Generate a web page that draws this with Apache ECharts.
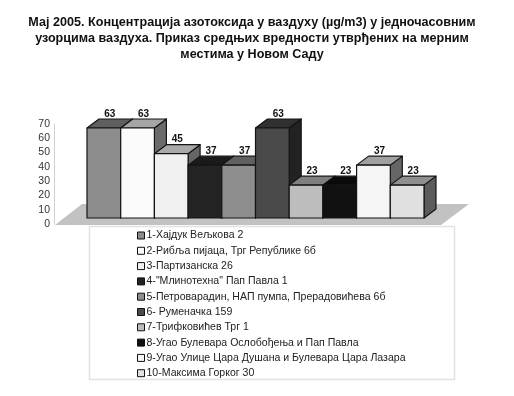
<!DOCTYPE html>
<html>
<head>
<meta charset="utf-8">
<style>html,body{margin:0;padding:0;background:#fff}#c{width:514px;height:396px}</style>
<script src="https://cdn.jsdelivr.net/npm/echarts@6/dist/echarts.min.js"></script>
</head>
<body>
<div id="c"></div>
<script>
const chartTitle = 'Мај 2005. Концентрација азотоксида у ваздуху (µg/m3) у једночасовним\nузорцима ваздуха. Приказ средњих вредности утврђених на мерним\nместима у Новом Саду';
const locations = [
  '1-Хајдук Вељкова 2',
  '2-Рибља пијаца, Трг Републике 6б',
  '3-Партизанска 26',
  '4-"Млинотехна" Пап Павла 1',
  '5-Петроварадин, НАП пумпа, Прерадовићева 6б',
  '6- Руменачка 159',
  '7-Трифковићев Трг 1',
  '8-Угао Булевара Ослобођења и Пап Павла',
  '9-Угао Улице Цара Душана и Булевара Цара Лазара',
  '10-Максима Горког 30'
];
const values = [63, 63, 45, 37, 37, 63, 23, 23, 37, 23];
const frontColors = ['#8c8c8c','#fbfbfb','#f0f0f0','#232323','#8e8e8e','#4a4a4a','#bdbdbd','#111111','#f5f5f5','#e0e0e0'];
const topColors   = ['#5f5f5f','#a5a5a5','#a8a8a8','#1a1a1a','#606060','#303030','#7f7f7f','#0a0a0a','#a0a0a0','#8f8f8f'];
const sideColors  = ['#4a4a4a','#6a6a6a','#666666','#111111','#444444','#222222','#555555','#080808','#666666','#5c5c5c'];

const DEPTH_X = 12, DEPTH_Y = 9, LIFT = 6;
const INK = '#141414';

function poly(points, fill) {
  return { type: 'polygon', shape: { points }, style: { fill, stroke: INK, lineWidth: 1.2, lineJoin: 'round' } };
}
function renderBar(params, api) {
  const cat = api.value(0), val = api.value(1);
  const top = api.coord([cat, val]);
  const base = api.coord([cat, 0]);
  const w = api.size([1, 0])[0];
  const l = top[0] - w / 2, r = top[0] + w / 2;
  const t = top[1] - LIFT, b = base[1] - LIFT;
  return {
    type: 'group',
    children: [
      poly([[r, t], [r + DEPTH_X, t - DEPTH_Y], [r + DEPTH_X, b - DEPTH_Y], [r, b]], sideColors[cat]),
      poly([[l, t], [l + DEPTH_X, t - DEPTH_Y], [r + DEPTH_X, t - DEPTH_Y], [r, t]], topColors[cat]),
      poly([[l, t], [r, t], [r, b], [l, b]], frontColors[cat])
    ]
  };
}
function renderFloor(params) {
  const c = params.coordSys;
  const y0 = c.y + c.height;
  return {
    type: 'polygon',
    shape: { points: [[c.x - 32, y0 + 1], [c.x - 5, y0 - 20], [c.x + c.width + 45, y0 - 20], [c.x + c.width + 17, y0 + 1]] },
    style: { fill: '#c2c2c2' }
  };
}
function renderLabel(params, api) {
  const cat = api.value(0), val = api.value(1);
  const p = api.coord([cat, val]);
  return {
    type: 'text',
    style: {
      x: p[0] + DEPTH_X / 2, y: p[1] - LIFT - DEPTH_Y - 5,
      text: String(val), align: 'center', verticalAlign: 'middle',
      font: 'bold 10px "Liberation Sans"', fill: '#111'
    }
  };
}

const series = [{
  name: 'floor', type: 'custom', z: 1, silent: true, clip: false,
  data: [[0, 0]], encode: { x: 0, y: 1 }, renderItem: renderFloor
}];
locations.forEach((name, i) => {
  series.push({
    name, type: 'custom', z: 2 + i, clip: false,
    itemStyle: { color: frontColors[i] },
    data: [[i, values[i]]], encode: { x: 0, y: 1 }, renderItem: renderBar
  });
});
series.push({
  name: 'labels', type: 'custom', z: 20, clip: false, silent: true,
  data: values.map((v, i) => [i, v]), encode: { x: 0, y: 1 }, renderItem: renderLabel
});

const chart = echarts.init(document.getElementById('c'), null, { renderer: 'canvas' });
chart.setOption({
  animation: false,
  backgroundColor: '#fff',
  title: {
    text: chartTitle, left: 252, top: 15, textAlign: 'center', padding: 0,
    textStyle: { fontFamily: 'Liberation Sans', fontWeight: 'bold', fontSize: 12.6, lineHeight: 16, color: '#111' }
  },
  grid: { left: 87, top: 124, width: 337, height: 100 },
  xAxis: { type: 'category', data: locations, show: false },
  yAxis: {
    type: 'value', min: 0, max: 70, interval: 10, offset: 33,
    axisLine: { show: true, lineStyle: { color: '#d0d0d0' } },
    axisTick: { show: false }, splitLine: { show: false },
    axisLabel: { fontFamily: 'Liberation Sans', fontSize: 10.5, color: '#333', margin: 4 }
  },
  legend: {
    data: locations, orient: 'vertical', left: 137, top: 229.5, padding: 0,
    selectedMode: false, icon: 'rect', itemWidth: 7, itemHeight: 7, itemGap: 3.3,
    itemStyle: { borderColor: '#111', borderWidth: 1 },
    textStyle: { fontFamily: 'Liberation Sans', fontSize: 10.55, color: '#222', padding: [0, 0, 0, -3], lineHeight: 12 }
  },
  graphic: [{
    type: 'rect', z: 0, silent: true,
    shape: { x: 89.5, y: 226.5, width: 365, height: 153 },
    style: { fill: '#fff', stroke: '#e2e2e2', lineWidth: 1.5 }
  }],
  series
});
</script>
</body>
</html>
